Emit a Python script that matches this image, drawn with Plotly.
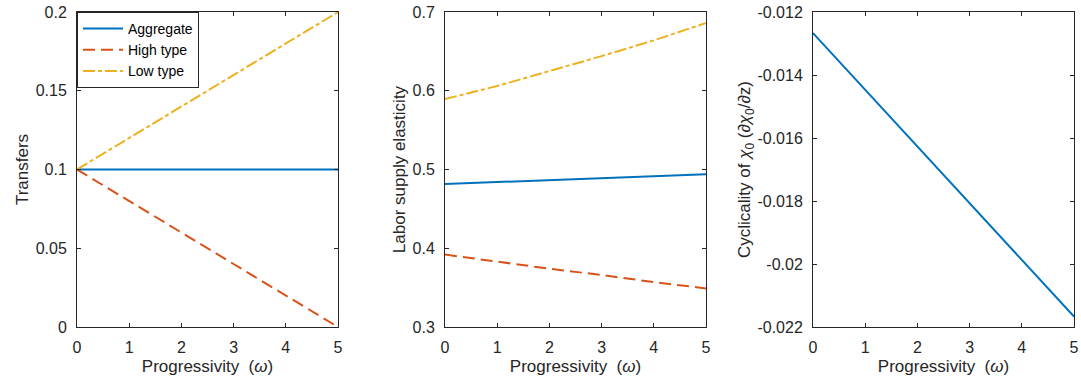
import plotly.graph_objects as go

omega = [0, 1, 2, 3, 4, 5]

# Panel 1: transfers
transfers_agg = [0.1, 0.1, 0.1, 0.1, 0.1, 0.1]
transfers_high = [0.1, 0.08, 0.06, 0.04, 0.02, 0.0]
transfers_low = [0.1, 0.12, 0.14, 0.16, 0.18, 0.2]

# Panel 2: labor supply elasticity
elas_agg = [0.4815, 0.484, 0.4865, 0.489, 0.4915, 0.494]
elas_high = [0.392, 0.383, 0.374, 0.366, 0.357, 0.349]
elas_low = [0.5895, 0.606, 0.625, 0.644, 0.664, 0.686]

# Panel 3: cyclicality
cyc = [-0.01267, -0.01447, -0.01627, -0.01807, -0.01987, -0.02167]

x_ticks = [0, 1, 2, 3, 4, 5]
y1_ticks = [0, 0.05, 0.1, 0.15, 0.2]
y1_labels = ["0", "0.05", "0.1", "0.15", "0.2"]
y2_ticks = [0.3, 0.4, 0.5, 0.6, 0.7]
y2_labels = ["0.3", "0.4", "0.5", "0.6", "0.7"]
y3_ticks = [-0.022, -0.02, -0.018, -0.016, -0.014, -0.012]
y3_labels = ["-0.022", "-0.02", "-0.018", "-0.016", "-0.014", "-0.012"]

BLUE = "#0072BD"
ORANGE = "#D95319"
YELLOW = "#EDB120"
AXC = "#262626"
FONT = "Liberation Sans, Arial, sans-serif"
DASH = "12px,6px"
DASHDOT = "12px,3px,4px,3px"

fig = go.Figure()
fig.add_trace(go.Scatter(x=omega, y=transfers_agg, mode="lines", name="Aggregate",
                         line=dict(color=BLUE, width=2), xaxis="x", yaxis="y"))
fig.add_trace(go.Scatter(x=omega, y=transfers_high, mode="lines", name="High type",
                         line=dict(color=ORANGE, width=2, dash=DASH), xaxis="x", yaxis="y"))
fig.add_trace(go.Scatter(x=omega, y=transfers_low, mode="lines", name="Low type",
                         line=dict(color=YELLOW, width=2, dash=DASHDOT), xaxis="x", yaxis="y"))

fig.add_trace(go.Scatter(x=omega, y=elas_agg, mode="lines", showlegend=False,
                         line=dict(color=BLUE, width=2), xaxis="x2", yaxis="y2"))
fig.add_trace(go.Scatter(x=omega, y=elas_high, mode="lines", showlegend=False,
                         line=dict(color=ORANGE, width=2, dash=DASH), xaxis="x2", yaxis="y2"))
fig.add_trace(go.Scatter(x=omega, y=elas_low, mode="lines", showlegend=False,
                         line=dict(color=YELLOW, width=2, dash=DASHDOT), xaxis="x2", yaxis="y2"))

fig.add_trace(go.Scatter(x=omega, y=cyc, mode="lines", showlegend=False,
                         line=dict(color=BLUE, width=2), xaxis="x3", yaxis="y3"))

W, H = 1081, 384
ydom = [1 - 327 / H, 1 - 12 / H]
xdoms = [[77 / W, 338 / W], [445 / W, 706 / W], [813 / W, 1074 / W]]

common_axis = dict(showline=True, linecolor=AXC, linewidth=1, mirror="ticks",
                   ticks="inside", ticklen=4, tickcolor=AXC, tickwidth=1,
                   showgrid=False, zeroline=False, automargin=False,
                   ticklabelstandoff=6,
                   tickfont=dict(family=FONT, size=16, color=AXC))

xtitle = dict(text="Progressivity  (<i>ω</i>)", font=dict(family=FONT, size=17, color=AXC), standoff=4)

layout = dict(
    width=W, height=H,
    margin=dict(l=0, r=0, t=0, b=0),
    paper_bgcolor="white", plot_bgcolor="white",
    font=dict(family=FONT, color=AXC),
    showlegend=True,
    legend=dict(x=77 / W, y=ydom[1], xanchor="left", yanchor="top",
                bgcolor="white", bordercolor=AXC, borderwidth=1,
                font=dict(family=FONT, size=14, color="#000000"),
                tracegroupgap=0, itemwidth=40),
)
ytitles = ["Transfers", "Labor supply elasticity",
           "Cyclicality of <i>χ</i><sub>0</sub> (∂<i>χ</i><sub>0</sub>/∂z)"]
yranges = [[0, 0.2], [0.3, 0.7], [-0.022, -0.012]]
yticks = [(y1_ticks, y1_labels), (y2_ticks, y2_labels), (y3_ticks, y3_labels)]
for i in range(3):
    sx = "" if i == 0 else str(i + 1)
    layout["xaxis" + sx] = dict(common_axis, domain=xdoms[i], range=[0, 5],
                                anchor="y" + sx, tickvals=x_ticks, title=xtitle)
    layout["yaxis" + sx] = dict(common_axis, domain=ydom, range=yranges[i],
                                anchor="x" + sx, tickvals=yticks[i][0], ticktext=yticks[i][1],
                                title=dict(text=ytitles[i], font=dict(family=FONT, size=17, color=AXC),
                                           standoff=2))

fig.update_layout(**layout)
fig.write_html("out.html")
